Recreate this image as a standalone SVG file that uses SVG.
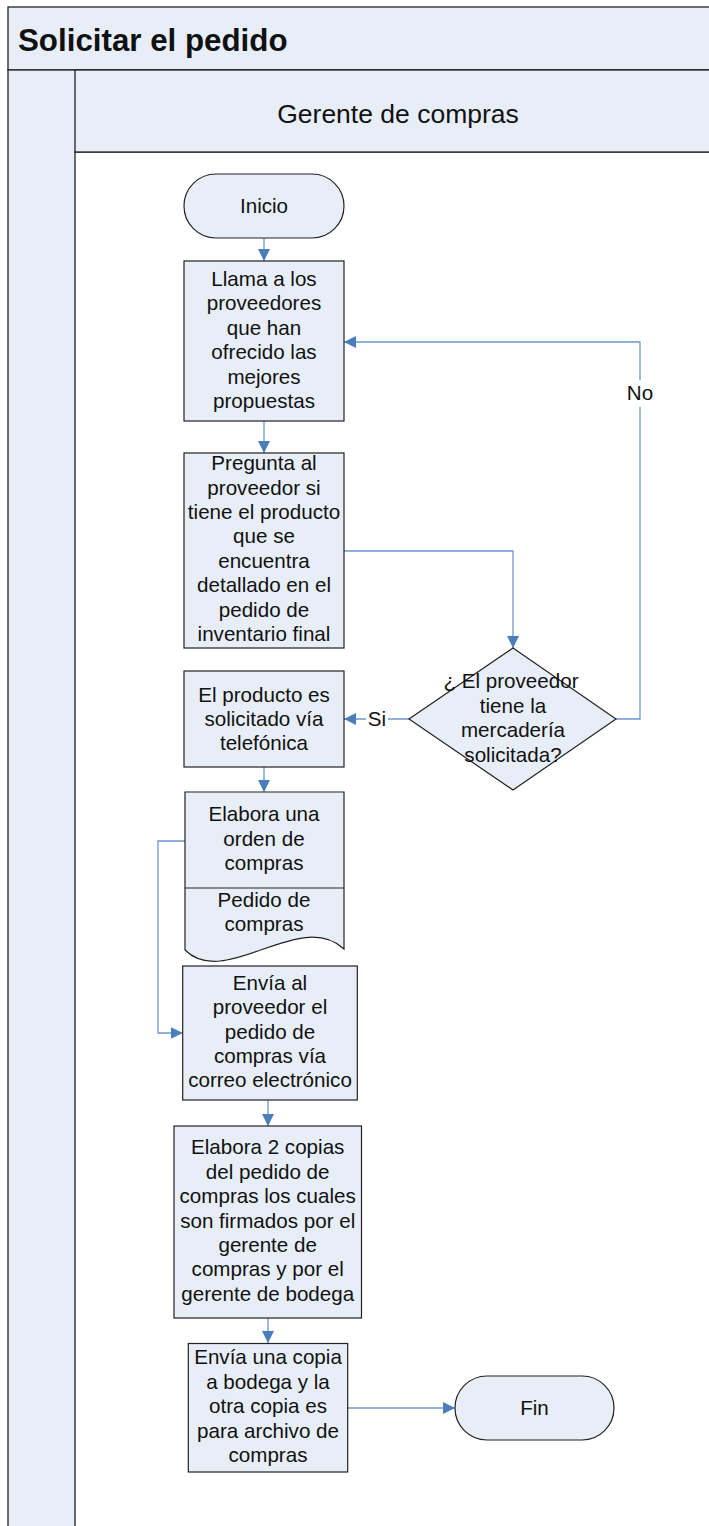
<svg xmlns="http://www.w3.org/2000/svg" width="709" height="1526" viewBox="0 0 709 1526">
<style>
.frame{fill:#E8EEF7;stroke:#222;stroke-width:1.3}
.shape{fill:#E8EEF7;stroke:#222;stroke-width:1.2}
.con{fill:none;stroke:#6E96D0;stroke-width:1.3}
.t{font-family:"Liberation Sans",Arial,sans-serif;font-size:20.6px;fill:#111;text-anchor:middle}
.title{font-family:"Liberation Sans",Arial,sans-serif;font-size:31.3px;font-weight:bold;fill:#111}
.lane{font-family:"Liberation Sans",Arial,sans-serif;font-size:26.5px;fill:#111;text-anchor:middle}
</style>
<defs>
<marker id="arr" markerUnits="userSpaceOnUse" markerWidth="12" markerHeight="12" refX="12" refY="6" orient="auto">
<path d="M0,0 L12,6 L0,12 z" fill="#4A7EBB"/>
</marker>
</defs>
<rect width="709" height="1526" fill="#fff"/>
<g id="pool">
<rect class="frame" x="8" y="7" width="720" height="63"/>
<text class="title" x="18" y="51">Solicitar el pedido</text>
<rect class="frame" x="8" y="70" width="720" height="1470"/>
<rect x="75" y="152" width="653" height="1390" fill="#fff" stroke="#222" stroke-width="1.3"/>
<rect class="frame" x="75" y="70" width="653" height="82"/>
<text class="lane" x="398" y="123">Gerente de compras</text>
</g>
<g id="connectors">
<path class="con" marker-end="url(#arr)" d="M264,238 V261"/>
<path class="con" marker-end="url(#arr)" d="M264,421 V453"/>
<path class="con" marker-end="url(#arr)" d="M344,551 H513 V648"/>
<path class="con" marker-end="url(#arr)" d="M409,719 H344"/>
<path class="con" marker-end="url(#arr)" d="M616,719 H640 V342 H344"/>
<path class="con" marker-end="url(#arr)" d="M264,767 V792"/>
<path class="con" marker-end="url(#arr)" d="M185,841 H158 V1033 H182.7"/>
<path class="con" marker-end="url(#arr)" d="M268,1100 V1126"/>
<path class="con" marker-end="url(#arr)" d="M268,1318 V1343"/>
<path class="con" marker-end="url(#arr)" d="M348,1408 H455"/>
<rect x="366" y="708" width="22" height="22" fill="#fff"/>
<text class="t" x="377" y="726">Si</text>
<rect x="627" y="380" width="27" height="27" fill="#fff"/>
<text class="t" x="640" y="400">No</text>
</g>
<g id="inicio">
<rect class="shape" x="184" y="174" width="160" height="64" rx="32" ry="32"/>
<text class="t" x="264" y="213">Inicio</text>
</g>
<g id="llama">
<rect class="shape" x="184" y="261" width="160" height="160"/>
<text class="t" x="264" y="286">Llama a los</text>
<text class="t" x="264" y="310.4">proveedores</text>
<text class="t" x="264" y="334.8">que han</text>
<text class="t" x="264" y="359.2">ofrecido las</text>
<text class="t" x="264" y="383.6">mejores</text>
<text class="t" x="264" y="408">propuestas</text>
</g>
<g id="pregunta">
<rect class="shape" x="184" y="453" width="160" height="195"/>
<text class="t" x="264" y="470.2">Pregunta al</text>
<text class="t" x="264" y="494.6">proveedor si</text>
<text class="t" x="264" y="519">tiene el producto</text>
<text class="t" x="264" y="543.4">que se</text>
<text class="t" x="264" y="567.8">encuentra</text>
<text class="t" x="264" y="592.2">detallado en el</text>
<text class="t" x="264" y="616.6">pedido de</text>
<text class="t" x="264" y="641">inventario final</text>
</g>
<g id="decision">
<path class="shape" d="M513,648 L616,719 L513,790 L409,719 z"/>
<text class="t" x="511" y="688">¿ El proveedor</text>
<text class="t" x="513" y="712.5">tiene la</text>
<text class="t" x="513" y="737">mercadería</text>
<text class="t" x="513" y="761.5">solicitada?</text>
</g>
<g id="solicitado">
<rect class="shape" x="184" y="671" width="160" height="96"/>
<text class="t" x="264" y="701.5">El producto es</text>
<text class="t" x="264" y="726">solicitado vía</text>
<text class="t" x="264" y="750.4">telefónica</text>
</g>
<g id="orden">
<path class="shape" d="M185,792 H344 V949 C300,908 225,990 185,950 z"/>
<line x1="185" y1="888" x2="344" y2="888" stroke="#222" stroke-width="1.2"/>
<text class="t" x="264" y="821">Elabora una</text>
<text class="t" x="264" y="845.5">orden de</text>
<text class="t" x="264" y="870">compras</text>
<text class="t" x="264" y="906.7">Pedido de</text>
<text class="t" x="264" y="931">compras</text>
</g>
<g id="envia">
<rect class="shape" x="182.7" y="966" width="174.6" height="134"/>
<text class="t" x="270" y="989.5">Envía al</text>
<text class="t" x="270" y="1014">proveedor el</text>
<text class="t" x="270" y="1038.5">pedido de</text>
<text class="t" x="270" y="1063">compras vía</text>
<text class="t" x="270" y="1087.4">correo electrónico</text>
</g>
<g id="copias">
<rect class="shape" x="174" y="1126" width="187.5" height="192"/>
<text class="t" x="267.7" y="1154.3">Elabora 2 copias</text>
<text class="t" x="267.7" y="1178.7">del pedido de</text>
<text class="t" x="267.7" y="1203.1">compras los cuales</text>
<text class="t" x="267.7" y="1227.5">son firmados por el</text>
<text class="t" x="267.7" y="1251.9">gerente de</text>
<text class="t" x="267.7" y="1276.3">compras y por el</text>
<text class="t" x="267.7" y="1300.7">gerente de bodega</text>
</g>
<g id="envia-copia">
<rect class="shape" x="188.3" y="1343.5" width="159.4" height="128.5"/>
<text class="t" x="268" y="1364.3">Envía una copia</text>
<text class="t" x="268" y="1388.7">a bodega y la</text>
<text class="t" x="268" y="1413.1">otra copia es</text>
<text class="t" x="268" y="1437.5">para archivo de</text>
<text class="t" x="268" y="1461.9">compras</text>
</g>
<g id="fin">
<rect class="shape" x="455" y="1376" width="159" height="64" rx="32" ry="32"/>
<text class="t" x="534.5" y="1415">Fin</text>
</g>
</svg>
